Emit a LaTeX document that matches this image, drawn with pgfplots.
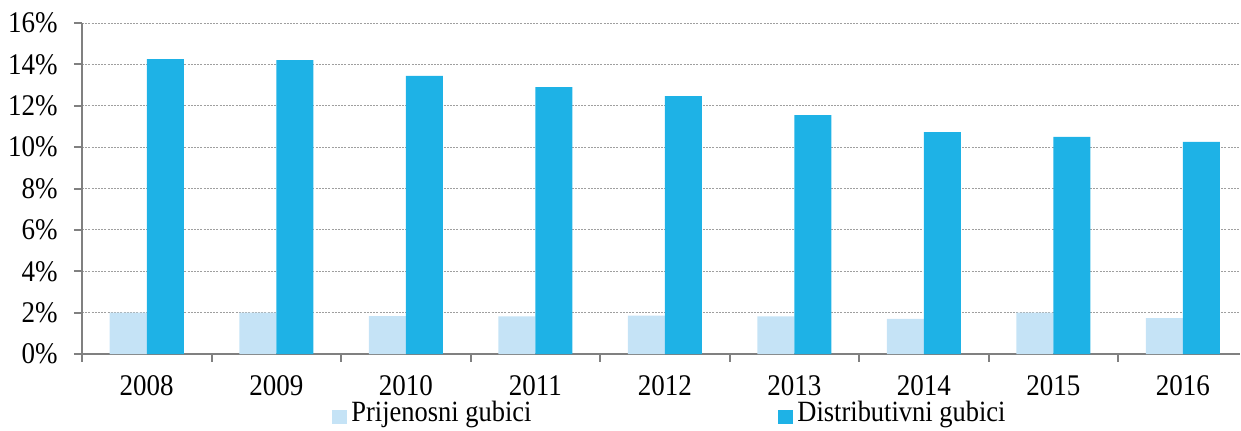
\documentclass[border=0pt]{standalone}
\usepackage{fontspec}
\setmainfont[FakeStretch=0.9]{Liberation Serif}
\usepackage{pgfplots}
\pgfplotsset{compat=1.18}
\definecolor{lightb}{RGB}{197,227,246}
\definecolor{darkb}{RGB}{30,178,230}
\definecolor{axgray}{RGB}{128,128,128}
\begin{document}
\fontsize{15pt}{17pt}\selectfont
\begin{tikzpicture}
\clip (-41pt,-38pt) rectangle (579.5pt,177pt);
\begin{axis}[
  scale only axis,
  width=579pt, height=165.5pt,
  xmin=-0.5, xmax=8.442,
  ymin=0, ymax=16,
  axis x line*=bottom, axis y line*=left,
  axis line style={axgray, line width=1pt},
  xtick={0,...,8},
  xticklabels={2008,2009,2010,2011,2012,2013,2014,2015,2016},
  major x tick style={draw=none},
  minor xtick={-0.5,0.5,...,8.5},
  minor tick length=3.8pt,
  minor x tick style={axgray, line width=1pt},
  ytick={0,2,...,16},
  yticklabel={\pgfmathprintnumber{\tick}\%},
  major tick length=4pt,
  major y tick style={axgray, line width=1pt},
  tick align=outside,
  ymajorgrids,
  major grid style={gray!75, line width=0.4pt, dash pattern=on 1pt off 0.6pt},
  /pgf/number format/assume math mode=true,
  ticklabel style={font=\fontsize{15pt}{17pt}\selectfont},
  xticklabel style={yshift=-1.5pt},
  yticklabel style={xshift=-3pt},
  ybar, bar width=18.5pt,
  legend style={at={(axis description cs:0.2159,-0.181)}, anchor=west, draw=none, fill=none,
    inner sep=0pt, font=\fontsize{14.7pt}{17pt}\selectfont, legend columns=2,
    /tikz/every odd column/.append style={column sep=0pt},
    /tikz/every even column/.append style={column sep=121.5pt}},
  legend cell align=left,
  legend image code/.code={\fill[#1, draw=none] (0pt,-5pt) rectangle (7.5pt,2pt);},
]
\addplot[fill=lightb, draw=none, bar shift=-9.25pt] coordinates {
(0,2.0) (1,2.0) (2,1.83) (3,1.82) (4,1.85) (5,1.82) (6,1.70) (7,2.0) (8,1.73)};
\addplot[fill=darkb, draw=none, bar shift=9.25pt] coordinates {
(0,14.26) (1,14.2) (2,13.44) (3,12.9) (4,12.47) (5,11.55) (6,10.73) (7,10.49) (8,10.25)};
\legend{Prijenosni gubici, Distributivni gubici}
\end{axis}
\end{tikzpicture}
\end{document}
